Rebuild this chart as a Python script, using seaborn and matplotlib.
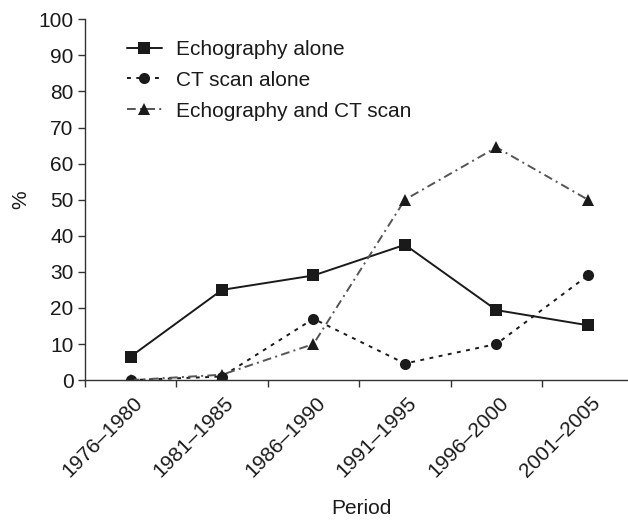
import pandas as pd
import matplotlib.pyplot as plt
import matplotlib.transforms as mtransforms
import seaborn as sns
from matplotlib.ticker import FixedLocator

periods = ['1976–1980', '1981–1985', '1986–1990', '1991–1995', '1996–2000', '2001–2005']
echo_alone = [6.5, 25, 29, 37.5, 19.4, 15.2]
ct_alone = [0, 1, 17, 4.6, 10, 29]
echo_and_ct = [0, 1.5, 10, 50, 64.5, 50]
series_names = ['Echography alone', 'CT scan alone', 'Echography and CT scan']

df = pd.DataFrame({
    'Period': periods * 3,
    'pct': echo_alone + ct_alone + echo_and_ct,
    'Series': [s for s in series_names for _ in periods],
})

sns.set_style('white')
plt.rcParams['font.family'] = ['Liberation Sans', 'DejaVu Sans']
fs = 15

fig = plt.figure(figsize=(6.28, 5.2), dpi=100)
ax = fig.add_axes([0.135, 0.269, 0.874, 0.694])

sns.lineplot(data=df, x='Period', y='pct', hue='Series', style='Series', sort=False,
             palette={'Echography alone': '#1a1a1a', 'CT scan alone': '#1a1a1a',
                      'Echography and CT scan': '#555555'},
             markers={'Echography alone': 's', 'CT scan alone': 'o',
                      'Echography and CT scan': '^'},
             dashes={'Echography alone': '', 'CT scan alone': (2, 2.8),
                     'Echography and CT scan': (4.5, 2.2, 1, 2.2)},
             markersize=8, linewidth=1.4, markeredgewidth=0, ax=ax)
for line in ax.get_lines():
    line.set_markerfacecolor('#1a1a1a')

ax.set_xlim(-0.5, 5.5)
ax.set_ylim(0, 100)
ax.set_yticks(range(0, 101, 10))
ax.tick_params(axis='y', which='major', length=5, width=1, color='#333333',
               labelsize=fs, pad=3, left=True, labelcolor='#1a1a1a')
ax.xaxis.set_minor_locator(FixedLocator([i - 0.5 for i in range(7)]))
ax.tick_params(axis='x', which='major', length=0, labelsize=fs, pad=14, labelcolor='#1a1a1a')
ax.tick_params(axis='x', which='minor', length=5, width=1, color='#333333', bottom=True)
shift = mtransforms.ScaledTranslation(0.09, 0, fig.dpi_scale_trans)
for lab in ax.get_xticklabels():
    lab.set_rotation(45)
    lab.set_ha('right')
    lab.set_va('center')
    lab.set_rotation_mode('anchor')
    lab.set_transform(lab.get_transform() + shift)

for s in ['top', 'right']:
    ax.spines[s].set_visible(False)
for s in ['left', 'bottom']:
    ax.spines[s].set_color('#333333')
    ax.spines[s].set_linewidth(1)

ax.set_xlabel('Period', fontsize=fs, color='#1a1a1a')
ax.set_ylabel('%', fontsize=fs, color='#1a1a1a')
ax.xaxis.set_label_coords(0.5045, -0.33)
ax.yaxis.set_label_coords(-0.10, 0.4986)

handles, labels = ax.get_legend_handles_labels()
ax.legend(handles, labels, loc='upper left', bbox_to_anchor=(0.042, 0.995), frameon=False,
          fontsize=fs, handlelength=1.7, labelspacing=0.57, handletextpad=0.67,
          labelcolor='#1a1a1a')

fig.savefig('out.png', dpi=100)
